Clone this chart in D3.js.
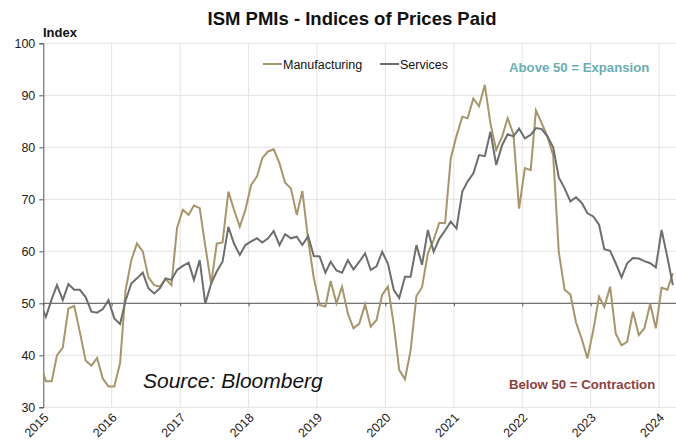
<!DOCTYPE html>
<html>
<head>
<meta charset="utf-8">
<script src="https://cdn.jsdelivr.net/npm/d3@7"></script>
<style>
  body { margin: 0; background: #fff; }
  text { font-family: "Liberation Sans", Arial, sans-serif; }
</style>
</head>
<body>
<div id="chart"></div>
<script>
// monthly values, Dec 2014 .. Mar 2024
const manufacturing = [
  38.5,
  35.0, 35.0, 40.0, 41.5, 49.0, 49.5, 44.5, 39.0, 38.0, 39.5, 35.5, 34.0,
  34.0, 38.5, 52.5, 58.3, 61.5, 60.0, 55.0, 53.5, 53.2, 54.7, 53.5, 64.5,
  68.0, 67.0, 68.8, 68.3, 61.0, 53.8, 61.5, 61.7, 71.5, 68.0, 64.7, 68.0,
  72.8, 74.4, 77.9, 79.2, 79.6, 76.9, 73.2, 72.1, 67.0, 71.6, 62.2, 54.9,
  49.7, 49.4, 54.3, 50.0, 53.2, 48.0, 45.2, 46.1, 49.8, 45.5, 46.8, 51.6,
  53.2, 45.9, 37.2, 35.4, 41.0, 51.4, 53.1, 59.6, 62.2, 65.5, 65.4, 77.8,
  82.2, 85.9, 85.6, 89.4, 87.9, 92.0, 84.6, 79.5, 82.0, 85.6, 82.5, 68.2,
  76.0, 75.6, 87.1, 84.6, 82.1, 78.5, 59.9, 52.6, 51.7, 46.3, 43.1, 39.4,
  44.8, 51.3, 49.3, 53.2, 44.2, 41.9, 42.6, 48.4, 43.9, 45.2, 49.9, 45.2,
  53.0, 52.6, 55.8
];
const services = [
  50.0,
  47.4, 50.8, 53.5, 50.6, 53.7, 52.6, 52.6, 51.2, 48.4, 48.2, 48.9, 50.6,
  47.1, 46.0, 50.5, 53.8, 54.8, 55.9, 52.9, 51.9, 52.9, 54.8, 54.5, 56.4,
  57.2, 57.8, 54.5, 58.3, 49.9, 53.8, 56.1, 58.0, 64.7, 61.5, 59.3, 61.2,
  61.9, 62.5, 61.7, 62.5, 63.9, 61.2, 63.3, 62.5, 62.8, 61.2, 62.9, 59.1,
  59.0, 55.9, 58.0, 56.3, 55.9, 58.3, 56.5, 58.0, 59.6, 56.4, 57.1, 59.9,
  57.6, 52.6, 51.0, 55.1, 55.1, 61.2, 57.4, 64.1, 59.9, 62.4, 64.0, 65.7,
  64.4, 71.5, 73.4, 75.0, 78.5, 78.3, 83.0, 76.6, 80.4, 82.5, 82.1, 83.6,
  81.7, 82.4, 83.7, 83.5, 82.1, 80.0, 74.2, 72.1, 69.6, 70.4, 69.3, 67.3,
  66.7, 65.1, 60.4, 60.1, 57.7, 55.0, 57.7, 58.7, 58.6, 58.1, 57.7, 56.9,
  64.1, 58.8, 53.5
];
const years = [2015, 2016, 2017, 2018, 2019, 2020, 2021, 2022, 2023, 2024];
const yTicks = [30, 40, 50, 60, 70, 80, 90, 100];

const width = 676, height = 446;
const plotLeft = 43.3, plotTop = 43.3, plotBottom = 407.3, plotRight = 676;

const svg = d3.select("#chart").append("svg")
  .attr("width", width)
  .attr("height", height);

const xScale = d3.scaleTime()
  .domain([new Date(2015, 0, 1), new Date(2024, 0, 1)])
  .range([plotLeft, 659]);

const yScale = d3.scaleLinear()
  .domain([30, 100])
  .range([plotBottom, plotTop]);

const dates = manufacturing.map((d, i) => new Date(2014, 11 + i, 15));

// grid
svg.append("g").selectAll("line")
  .data(yTicks)
  .join("line")
  .attr("x1", plotLeft).attr("x2", plotRight)
  .attr("y1", d => yScale(d)).attr("y2", d => yScale(d))
  .attr("stroke", "#e3e3e3").attr("stroke-width", 1);

svg.append("g").selectAll("line")
  .data(years.slice(1))
  .join("line")
  .attr("x1", d => xScale(new Date(d, 0, 1))).attr("x2", d => xScale(new Date(d, 0, 1)))
  .attr("y1", plotTop).attr("y2", plotBottom)
  .attr("stroke", "#e3e3e3").attr("stroke-width", 1);

// y axis
const yAxis = d3.axisLeft(yScale).tickValues(yTicks).tickSize(4).tickPadding(4);
const yAxisG = svg.append("g")
  .attr("transform", `translate(${plotLeft},0)`)
  .call(yAxis);
yAxisG.select(".domain").attr("stroke", "#555");
yAxisG.selectAll(".tick line").attr("stroke", "#555");
yAxisG.selectAll("text").attr("font-size", 12.5).attr("fill", "#222")
  .style("font-family", "Liberation Sans, Arial, sans-serif");

// x axis along the 50 line
const xAxis = d3.axisBottom(xScale)
  .tickValues(years.map(y => new Date(y, 0, 1)))
  .tickSize(3)
  .tickFormat("");
const xAxisG = svg.append("g")
  .attr("transform", `translate(0,${yScale(50)})`)
  .call(xAxis);
xAxisG.select(".domain").attr("stroke", "#555").attr("d", `M${plotLeft},0H${plotRight}`);
xAxisG.selectAll(".tick line").attr("stroke", "#555");

// rotated year labels
svg.append("g").selectAll("text")
  .data(years)
  .join("text")
  .attr("transform", d => `translate(${xScale(new Date(d, 0, 1)) + 6},${plotBottom + 11}) rotate(-45)`)
  .attr("text-anchor", "end")
  .attr("font-size", 12.5)
  .attr("fill", "#222")
  .text(d => d);

// lines
svg.append("clipPath").attr("id", "plotClip")
  .append("rect")
  .attr("x", plotLeft).attr("y", 0)
  .attr("width", plotRight - plotLeft).attr("height", height);

const lineGen = values => d3.line()
  .x((d, i) => xScale(dates[i]))
  .y(d => yScale(d))(values);

const plot = svg.append("g").attr("clip-path", "url(#plotClip)");

plot.append("path")
  .attr("d", lineGen(manufacturing))
  .attr("fill", "none")
  .attr("stroke", "#a8956a")
  .attr("stroke-width", 2);

plot.append("path")
  .attr("d", lineGen(services))
  .attr("fill", "none")
  .attr("stroke", "#6c6f6b")
  .attr("stroke-width", 2);

// titles
svg.append("text")
  .attr("x", 352).attr("y", 25)
  .attr("text-anchor", "middle")
  .attr("font-size", 18.5).attr("font-weight", "bold")
  .attr("fill", "#111")
  .text("ISM PMIs - Indices of Prices Paid");

svg.append("text")
  .attr("x", 43).attr("y", 37)
  .attr("font-size", 13).attr("font-weight", "bold")
  .attr("fill", "#111")
  .text("Index");

// legend
const legend = [
  {name: "Manufacturing", color: "#a8956a", x: 263},
  {name: "Services", color: "#6c6f6b", x: 380}
];
const lg = svg.append("g");
legend.forEach(l => {
  lg.append("line")
    .attr("x1", l.x).attr("x2", l.x + 19)
    .attr("y1", 64).attr("y2", 64)
    .attr("stroke", l.color).attr("stroke-width", 2);
  lg.append("text")
    .attr("x", l.x + 20).attr("y", 68.5)
    .attr("font-size", 12.5).attr("fill", "#111")
    .text(l.name);
});

// annotations
svg.append("text")
  .attr("x", 509).attr("y", 72)
  .attr("font-size", 13.2).attr("font-weight", "bold")
  .attr("fill", "#6aaeb2")
  .text("Above 50 = Expansion");

svg.append("text")
  .attr("x", 509).attr("y", 389)
  .attr("font-size", 13.2).attr("font-weight", "bold")
  .attr("fill", "#8e4040")
  .text("Below 50 = Contraction");

svg.append("text")
  .attr("x", 143).attr("y", 388)
  .attr("font-size", 21).attr("font-style", "italic")
  .attr("fill", "#111")
  .text("Source: Bloomberg");
</script>
</body>
</html>
